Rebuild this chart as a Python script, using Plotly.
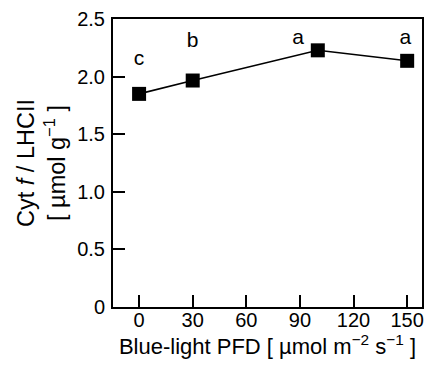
import plotly.graph_objects as go

# Data
pfd = [0, 30, 100, 150]
cyt_ratio = [1.85, 1.966, 2.228, 2.137]

letters = ["c", "b", "a", "a"]
letter_x = [0, 30, 89, 149]
letter_y = [2.15, 2.30, 2.33, 2.33]

x_ticks = [0, 30, 60, 90, 120, 150]
y_ticks = [0, 0.5, 1.0, 1.5, 2.0, 2.5]
y_ticktext = ["0", "0.5", "1.0", "1.5", "2.0", "2.5"]

FONT = "Arial, Liberation Sans, Helvetica, sans-serif"

fig = go.Figure()
fig.add_trace(go.Scatter(
    x=pfd, y=cyt_ratio, mode="lines+markers",
    line=dict(color="black", width=1.6),
    marker=dict(symbol="square", size=14, color="black"),
    showlegend=False, hoverinfo="skip",
))
fig.add_trace(go.Scatter(
    x=letter_x, y=letter_y, mode="text", text=letters,
    textfont=dict(family=FONT, size=21, color="black"),
    textposition="middle center",
    showlegend=False, hoverinfo="skip",
))

axis_common = dict(
    showline=True, linewidth=2, linecolor="black", mirror=True,
    showgrid=False, zeroline=False, automargin=False,
    ticks="inside", ticklen=12, tickwidth=1.5, tickcolor="black",
    tickfont=dict(family=FONT, size=20, color="black"),
)

# page has an 8px body margin, so the figure is shifted by (8, 8)
fig.update_layout(
    template="none",
    width=419, height=351,
    margin=dict(l=105, r=5, t=11, b=52),
    plot_bgcolor="white", paper_bgcolor="white",
    font=dict(family=FONT, size=20, color="black"),
    xaxis=dict(
        range=[-14.6, 158.3], tickvals=x_ticks,
        ticklabelstandoff=-6,
        title=dict(text="Blue-light PFD [ µmol m<sup>−2</sup> s<sup>−1</sup> ]",
                   font=dict(family=FONT, size=22), standoff=5),
        **axis_common,
    ),
    yaxis=dict(
        range=[0, 2.5], tickvals=y_ticks, ticktext=y_ticktext,
        ticklabelstandoff=2,
        title=dict(text="Cyt <i>f</i> / LHCII<br>[ µmol g<sup>−1</sup> ]",
                   font=dict(family=FONT, size=23.5), standoff=5),
        **axis_common,
    ),
)

fig.write_html("out.html")
